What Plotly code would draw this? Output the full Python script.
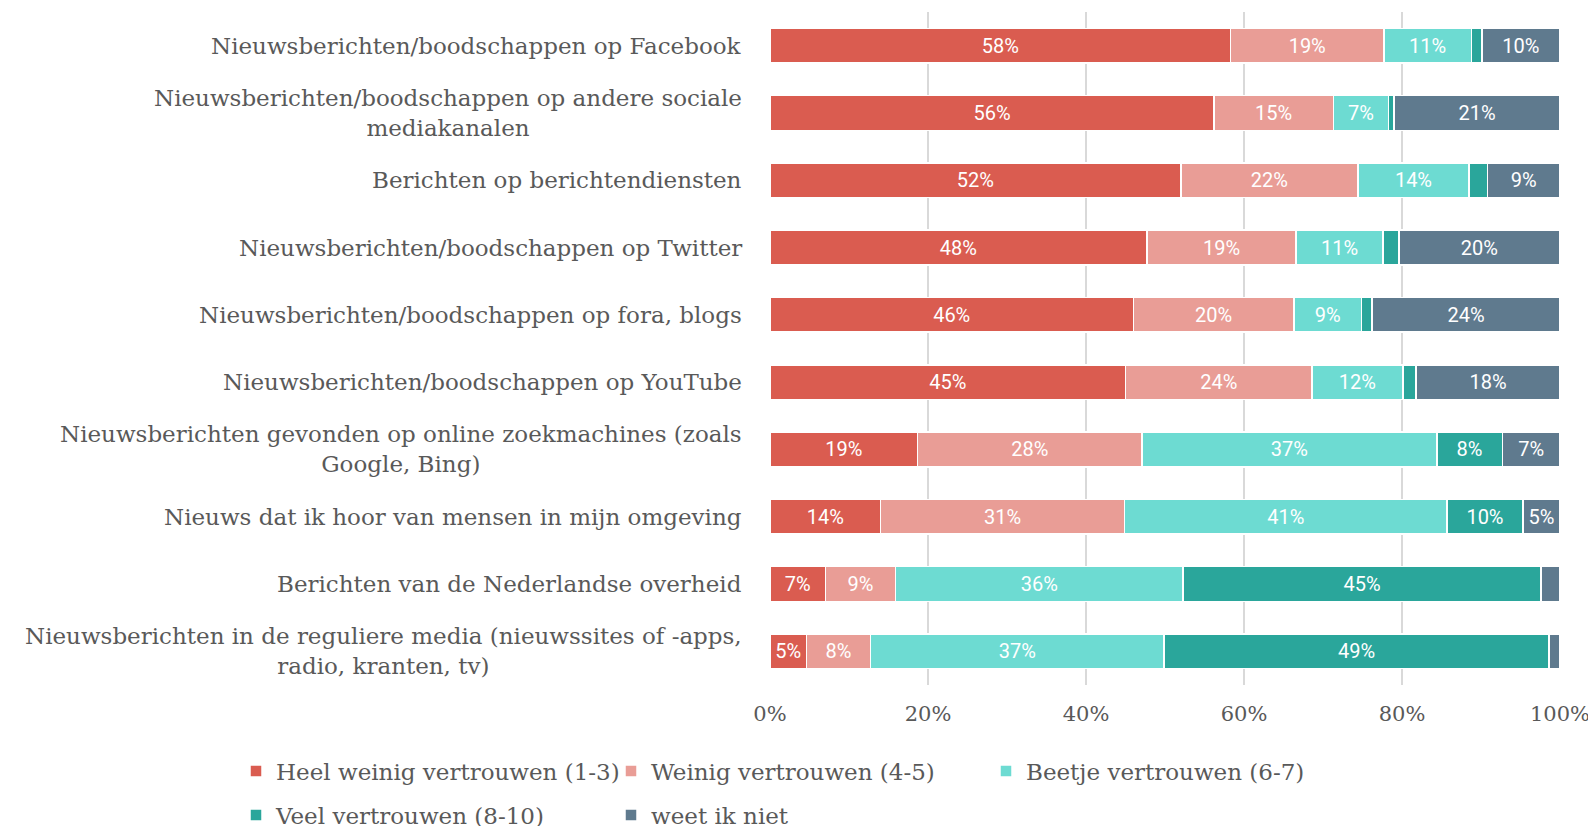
import plotly.graph_objects as go

categories = [
    "Nieuwsberichten/boodschappen op Facebook",
    "Nieuwsberichten/boodschappen op andere sociale<br>mediakanalen",
    "Berichten op berichtendiensten",
    "Nieuwsberichten/boodschappen op Twitter",
    "Nieuwsberichten/boodschappen op fora, blogs",
    "Nieuwsberichten/boodschappen op YouTube",
    "Nieuwsberichten gevonden op online zoekmachines (zoals<br>Google, Bing)",
    "Nieuws dat ik hoor van mensen in mijn omgeving",
    "Berichten van de Nederlandse overheid",
    "Nieuwsberichten in de reguliere media (nieuwssites of -apps,<br>radio, kranten, tv)",
]

series_names = [
    "Heel weinig vertrouwen (1-3)",
    "Weinig vertrouwen (4-5)",
    "Beetje vertrouwen (6-7)",
    "Veel vertrouwen (8-10)",
    "weet ik niet",
]

heel_weinig = [58.3, 56.2, 52.0, 47.7, 46.0, 45.0, 18.7, 14.0, 7.0, 4.6]
weinig = [19.4, 15.1, 22.4, 18.9, 20.3, 23.6, 28.4, 30.9, 8.9, 8.1]
beetje = [11.1, 7.0, 14.1, 11.0, 8.6, 11.5, 37.3, 40.8, 36.4, 37.2]
veel = [1.3, 0.7, 2.3, 2.0, 1.3, 1.7, 8.3, 9.6, 45.3, 48.7]
weet_niet = [9.9, 21.0, 9.2, 20.4, 23.8, 18.2, 7.3, 4.7, 2.4, 1.4]

colors = ["#DA5C50", "#E99D96", "#6DDBD2", "#2AA69B", "#5F7A8E"]
tick_vals = [0, 20, 40, 60, 80, 100]
tick_text = ["0%", "20%", "40%", "60%", "80%", "100%"]

all_series = [heel_weinig, weinig, beetje, veel, weet_niet]

# page has an 8px body margin; figure coordinates are shifted accordingly
W, H = 1588, 818
legend_names = ["legend", "legend2", "legend3", "legend4", "legend5"]
legend_pos = [(228, 763), (603, 763), (978, 763), (228, 807), (603, 807)]

fig = go.Figure()
for i, (name, vals) in enumerate(zip(series_names, all_series)):
    labels = [f"{round(v)}%" if v >= 4 else "" for v in vals]
    fig.add_trace(go.Bar(
        y=categories, x=vals, name=name, orientation="h",
        marker=dict(color=colors[i], line=dict(color="white", width=1.5)),
        text=labels, textposition="inside", insidetextanchor="middle",
        textangle=0, constraintext="none",
        textfont=dict(family="Roboto", size=20, color="white"),
        legend=legend_names[i], showlegend=True,
        hoverinfo="x+y+name",
    ))

for cat in categories:
    fig.add_annotation(
        x=0, xref="paper", y=cat, yref="y", xanchor="right", xshift=-26,
        text=cat, showarrow=False, align="center",
        font=dict(family="DejaVu Serif", size=23, color="#595959"),
    )

legend_common = dict(
    orientation="h", xref="container", yref="container",
    xanchor="left", yanchor="middle", visible=True,
    font=dict(family="DejaVu Serif", size=23, color="#595959"),
    itemwidth=30, bgcolor="rgba(0,0,0,0)",
)
legend_layout = {}
for ln, (px, py) in zip(legend_names, legend_pos):
    legend_layout[ln] = dict(x=px / W, y=1 - py / H, **legend_common)

fig.update_layout(
    barmode="stack",
    bargap=0.485,
    showlegend=True,
    width=W, height=H,
    margin=dict(l=762, r=W - 1552, t=4, b=H - 677, autoexpand=False),
    plot_bgcolor="white", paper_bgcolor="white",
    xaxis=dict(
        range=[0, 100], tickmode="array", tickvals=tick_vals, ticktext=tick_text,
        showgrid=True, gridcolor="#D9D9D9", gridwidth=2, zeroline=False,
        tickfont=dict(family="DejaVu Serif", size=21, color="#595959"),
        ticks="", showline=False, ticklabelstandoff=14,
        ticklabeloverflow="allow", automargin=False,
    ),
    yaxis=dict(
        autorange="reversed", showticklabels=False, showgrid=False,
        ticks="", showline=False, automargin=False,
    ),
    **legend_layout,
)

fig.write_html("out.html")
